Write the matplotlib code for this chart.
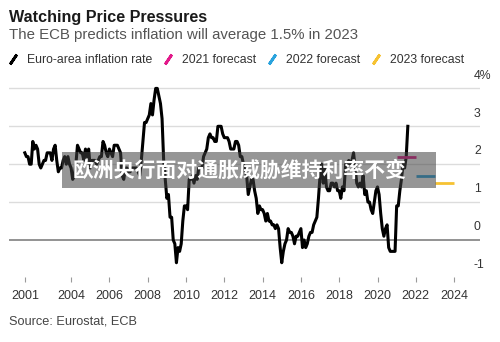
import matplotlib
matplotlib.use("Agg")
import matplotlib.pyplot as plt
from matplotlib.lines import Line2D
from matplotlib.patches import Rectangle
import numpy as np

plt.rcParams['font.family'] = ['Liberation Sans', 'DejaVu Sans']

# ---------------- data ----------------
start_year, start_month = 2001, 8
euro_inflation = [
    # 2001 Aug-Dec
    2.3, 2.2, 2.2, 2.0, 2.0,
    # 2002
    2.6, 2.4, 2.5, 2.4, 2.0, 1.9, 2.0, 2.1, 2.1, 2.3, 2.3, 2.3,
    # 2003
    2.1, 2.4, 2.5, 2.1, 1.8, 1.9, 1.9, 2.1, 2.2, 2.0, 2.2, 2.0,
    # 2004
    1.9, 1.6, 1.7, 2.0, 2.5, 2.4, 2.3, 2.3, 2.1, 2.4, 2.2, 2.4,
    # 2005
    1.9, 2.1, 2.1, 2.1, 2.0, 2.1, 2.2, 2.2, 2.6, 2.5, 2.3, 2.2,
    # 2006
    2.4, 2.3, 2.2, 2.5, 2.5, 2.5, 2.4, 2.3, 1.7, 1.6, 1.9, 1.9,
    # 2007
    1.8, 1.8, 1.9, 1.9, 1.9, 1.9, 1.8, 1.7, 2.1, 2.6, 3.1, 3.1,
    # 2008
    3.2, 3.3, 3.6, 3.3, 3.7, 4.0, 4.0, 3.8, 3.6, 3.2, 2.1, 1.6,
    # 2009
    1.1, 1.2, 0.6, 0.6, 0.0, -0.1, -0.6, -0.2, -0.3, -0.1, 0.5, 0.9,
    # 2010
    0.9, 0.8, 1.6, 1.6, 1.7, 1.5, 1.7, 1.6, 1.9, 1.9, 1.9, 2.2,
    # 2011
    2.3, 2.4, 2.7, 2.8, 2.7, 2.7, 2.6, 2.6, 3.0, 3.0, 3.0, 2.8,
    # 2012
    2.7, 2.7, 2.7, 2.6, 2.4, 2.4, 2.4, 2.6, 2.6, 2.5, 2.2, 2.2,
    # 2013
    2.0, 1.8, 1.7, 1.2, 1.4, 1.6, 1.6, 1.3, 1.1, 0.7, 0.9, 0.8,
    # 2014
    0.8, 0.7, 0.5, 0.7, 0.5, 0.5, 0.4, 0.4, 0.3, 0.4, 0.3, -0.2,
    # 2015
    -0.6, -0.3, -0.1, 0.0, 0.3, 0.2, 0.2, 0.1, -0.1, 0.1, 0.1, 0.2,
    # 2016
    0.3, -0.2, 0.0, -0.2, -0.1, 0.1, 0.2, 0.2, 0.4, 0.5, 0.6, 1.1,
    # 2017
    1.7, 2.0, 1.5, 1.9, 1.4, 1.3, 1.3, 1.5, 1.5, 1.4, 1.5, 1.3,
    # 2018
    1.3, 1.1, 1.4, 1.3, 2.0, 2.0, 2.1, 2.0, 2.1, 2.3, 1.9, 1.5,
    # 2019
    1.4, 1.5, 1.4, 1.7, 1.2, 1.3, 1.0, 1.0, 0.8, 0.7, 1.0, 1.3,
    # 2020
    1.4, 1.2, 0.7, 0.3, 0.1, 0.3, 0.4, -0.2, -0.3, -0.3, -0.3, -0.3,
    # 2021 Jan-Aug
    0.9, 0.9, 1.3, 1.6, 2.0, 1.9, 2.2, 3.0,
]

forecast_years = [2021, 2022, 2023]
forecast_values = [2.2, 1.7, 1.5]
forecast_labels = ["2021 forecast", "2022 forecast", "2023 forecast"]
forecast_colors = ["#e2198a", "#2aa3dd", "#f6c232"]

x_tick_pos = [2001 + 7 / 12, 2004, 2006, 2008, 2010, 2012, 2014, 2016, 2018, 2020, 2022, 2024]
x_tick_labels = ["2001", "2004", "2006", "2008", "2010", "2012", "2014", "2016", "2018", "2020", "2022", "2024"]
y_grid = [0, 1, 2, 3, 4]
y_label_vals = [4, 3, 2, 1, 0, -1]
y_label_txt = ["4%", "3", "2", "1", "0", "-1"]

# ---------------- figure ----------------
W, H = 500, 342
fig = plt.figure(figsize=(W / 100, H / 100), dpi=100)

def fx(px):
    return px / W

def fy(py):
    return 1 - py / H

ax_l, ax_r, ax_t, ax_b = 9, 480, 80, 282
ax = fig.add_axes([fx(ax_l), fy(ax_b), (ax_r - ax_l) / W, (ax_b - ax_t) / H])

ppy = 19.15
x0 = 2010 + (ax_l - 186) / ppy
x1 = 2010 + (ax_r - 186) / ppy
ppu = 37.9
zero_px = 240
ax.set_xlim(x0, x1)
ax.set_ylim((zero_px - ax_b) / ppu, (zero_px - ax_t) / ppu)

for v in y_grid:
    if v == 0:
        ax.axhline(v, color="#8a8a8a", lw=1.3, zorder=1)
    else:
        ax.axhline(v, color="#dcdcdc", lw=1.0, zorder=1)

n = len(euro_inflation)
t = np.array([start_year + (start_month - 1 + i) / 12 for i in range(n)])
ax.plot(t, euro_inflation, color="black", lw=2.2, zorder=3, solid_joinstyle="round")

for yr, val, col in zip(forecast_years, forecast_values, forecast_colors):
    ax.plot([yr, yr + 1], [val, val], color=col, lw=2.0, zorder=3, solid_capstyle="butt")

for s in ax.spines.values():
    s.set_visible(False)
ax.set_yticks([])
ax.set_xticks(x_tick_pos)
ax.set_xticklabels(x_tick_labels)
ax.tick_params(axis="x", direction="in", length=3.6, width=0.8, color="#9a9a9a",
               pad=5.5, labelsize=9, labelcolor="#333333")

lab_x = (474 - ax_l) / (ax_r - ax_l)
trans = matplotlib.transforms.blended_transform_factory(ax.transAxes, ax.transData)
for v, s in zip(y_label_vals, y_label_txt):
    ax.text(lab_x, v + 12.7 / ppu, s, transform=trans, ha="left", va="center",
            fontsize=8.8, color="#333333", clip_on=False)

# ---------------- texts ----------------
fig.text(fx(9), fy(22), "Watching Price Pressures", fontsize=11.6, fontweight="bold",
         color="#1a1a1a", va="baseline", ha="left")
fig.text(fx(9), fy(39.5), "The ECB predicts inflation will average 1.5% in 2023", fontsize=10.8,
         color="#555555", va="baseline", ha="left")
fig.text(fx(9), fy(324.3), "Source: Eurostat, ECB", fontsize=9.2, color="#444444",
         va="baseline", ha="left")

# ---------------- legend ----------------
slash = (2, 2, -34)
handles = [Line2D([], [], ls="none", marker=slash, markersize=8.5, markeredgewidth=2.0,
                  color="black")]
labels = ["Euro-area inflation rate"]
for lab, col in zip(forecast_labels, forecast_colors):
    handles.append(Line2D([], [], ls="none", marker=slash, markersize=8.5,
                          markeredgewidth=2.0, color=col))
    labels.append(lab)
leg = fig.legend(handles, labels, loc="center left", bbox_to_anchor=(fx(8.75), fy(60)),
                 ncol=4, frameon=False, fontsize=8.8, handlelength=0.7, handletextpad=0.8,
                 columnspacing=0.95, borderpad=0, borderaxespad=0, numpoints=1)
for txt in leg.get_texts():
    txt.set_color("#333333")

# ---------------- banner overlay ----------------
bx0, by0, bx1, by1 = 62, 152, 436, 188
fig.patches.append(Rectangle((fx(bx0), fy(by1)), (bx1 - bx0) / W, (by1 - by0) / H,
                             transform=fig.transFigure, facecolor="#404040", alpha=0.55,
                             edgecolor="none", zorder=10))
fig.text(fx(73), fy(170), "欧洲央行面对通胀威胁维持利率不变", fontsize=15, fontweight="bold",
         color="white", va="center", ha="left", zorder=11,
         family=["Noto Sans CJK SC", "DejaVu Sans"])

fig.savefig("out.png", dpi=100)
